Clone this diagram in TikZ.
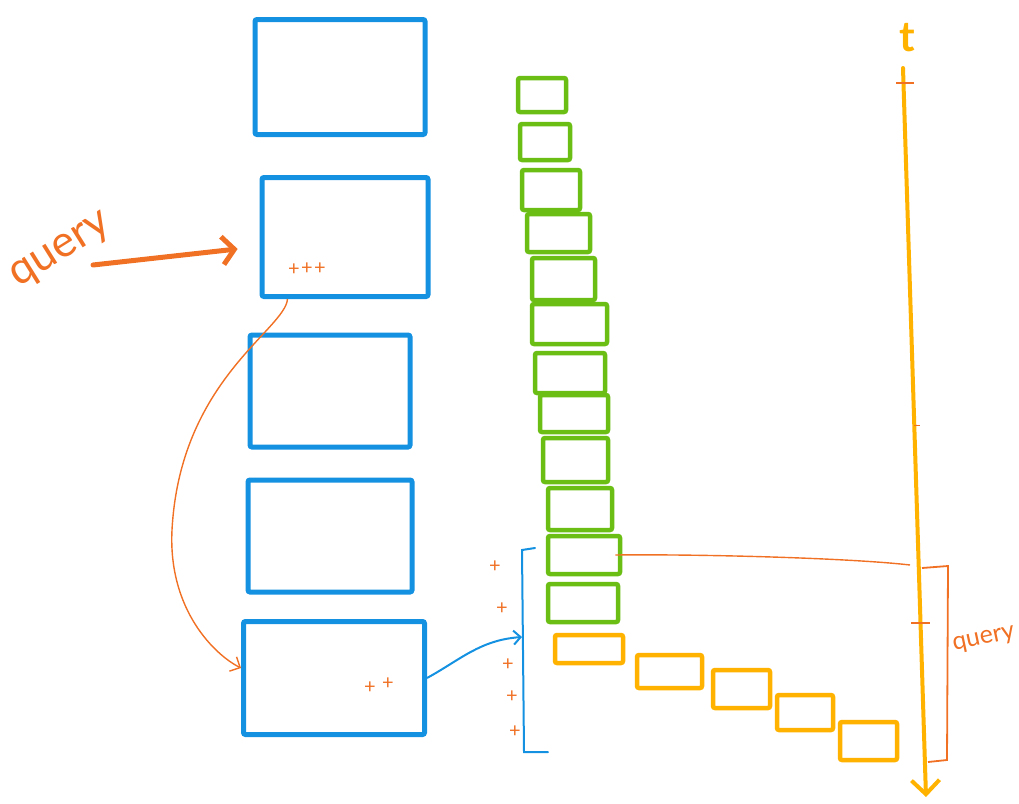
\documentclass[tikz,border=0pt]{standalone}
\usepackage{fontspec}
\setmainfont{Lato}
\usetikzlibrary{arrows.meta}
\definecolor{sketchblue}{RGB}{20,145,225}
\definecolor{sketchgreen}{RGB}{106,190,20}
\definecolor{sketchorange}{RGB}{240,112,36}
\definecolor{sketchamber}{RGB}{255,178,0}
\begin{document}
\begin{tikzpicture}[x=1pt,y=-1pt,
  blockbox/.style={draw=sketchblue,line width=5pt,rounded corners=2pt},
  greenbox/.style={draw=sketchgreen,line width=4.5pt,rounded corners=2pt},
  amberbox/.style={draw=sketchamber,line width=4.5pt,rounded corners=2pt},
  thinorange/.style={draw=sketchorange,line width=1.4pt},
  plusmark/.style={text=sketchorange,font=\fontsize{20}{20}\selectfont,inner sep=0pt}]
  \useasboundingbox (0,0) rectangle (1019,803);

  % blocks
  \node[blockbox,minimum width=170pt,minimum height=115pt] (blk1) at (340,77) {};
  \node[blockbox,minimum width=166pt,minimum height=119pt] (blk2) at (345,237) {};
  \node[blockbox,minimum width=160pt,minimum height=112pt] (blk3) at (330,391) {};
  \node[blockbox,minimum width=164pt,minimum height=112pt] (blk4) at (330,536) {};
  \node[blockbox,minimum width=181pt,minimum height=113pt] (blk5) at (334,678) {};

  % green stack
  \foreach \n/\cx/\cy/\w/\h in {1/542/95/48/34, 2/545/142/50/36, 3/551/190/58/40,
      4/558.5/233/63/38, 5/563.5/279/63/42, 6/569.5/324/75/40, 7/570/373/70/40,
      8/574/413.5/68/37, 9/575.5/460/65/44, 10/580/509/64/42, 11/584/555/72/38,
      12/583/603/70/38}
    \node[greenbox,minimum width=\w pt,minimum height=\h pt] (g\n) at (\cx,\cy) {};

  % amber steps
  \foreach \n/\cx/\cy/\w/\h in {1/589/649/68/28, 2/669.5/671.5/65/33, 3/741.5/689/57/38,
      4/805/712.5/56/35, 5/868.5/741/57/38}
    \node[amberbox,minimum width=\w pt,minimum height=\h pt] (o\n) at (\cx,\cy) {};

  % time axis
  \coordinate (ttop) at (903,68);
  \coordinate (tbot) at (926,797);
  \draw[sketchamber,line width=4pt,line cap=round,
    -{Straight Barb[length=14pt,width=28pt,line width=4pt]}] (ttop) -- (tbot);
  \node[text=sketchamber,font=\fontsize{42}{42}\selectfont\bfseries] (tlabel) at (907,38) {t};
  \draw[sketchorange,line width=2pt] (896,83) -- (914,83);
  \draw[sketchorange,line width=2pt] (911,623) -- (930,623);
  \draw[sketchorange,line width=1pt] (914,425) -- (920,425);

  % query label and arrow
  \node[text=sketchorange,rotate=32,font=\fontsize{44}{44}\selectfont] (qlabel) at (62,252) {query};
  \coordinate (qtail) at (93,265);
  \draw[sketchorange,line width=5pt,line cap=round,shorten >=22pt,
    -{Straight Barb[length=12pt,width=28pt,line width=5pt]}] (qtail) -- (blk2);

  % plus marks
  \node[plusmark] (pa) at (294,270) {+};
  \node[plusmark] (pb) at (307,269) {+};
  \node[plusmark] (pc) at (320,269) {+};
  \node[plusmark] (pd) at (370,688) {+};
  \node[plusmark] (pe) at (388,684) {+};
  \foreach \n/\px/\py in {1/495/567, 2/502/609, 3/508/665, 4/512/697, 5/515/732}
    \node[plusmark] (col\n) at (\px,\py) {+};

  % orange jump from block 2 to block 5
  \draw[thinorange,-{Straight Barb[length=8pt,width=16pt]}]
    ([xshift=28pt]blk2.south west) .. controls (285,330) and (180,380) .. (172,530)
    .. controls (168,610) and (215,655) .. ([yshift=10pt]blk5.west);

  % blue bracket and arrow
  \coordinate (bkt) at (522,637);
  \draw[sketchblue,line width=2pt,line cap=round] (535,548) -- (522,550) -- (524,752) -- (548,752);
  \draw[sketchblue,line width=2pt,-{Straight Barb[length=7pt,width=14pt]}]
    (blk5.east) .. controls (460,660) and (480,640) .. (bkt);

  % link from green stack to time axis
  \coordinate (tmark) at (910,565);
  \draw[thinorange] ([xshift=-7pt]g11.east) .. controls (700,554) and (850,558) .. (tmark);

  % query window on the axis
  \draw[thinorange,line width=1.8pt] (922,568) -- (948,566) -- (947,760) -- (928,762);
  \node[text=sketchorange,rotate=12,font=\fontsize{25}{25}\selectfont] (qwin) at (984,640) {query};
\end{tikzpicture}
\end{document}
